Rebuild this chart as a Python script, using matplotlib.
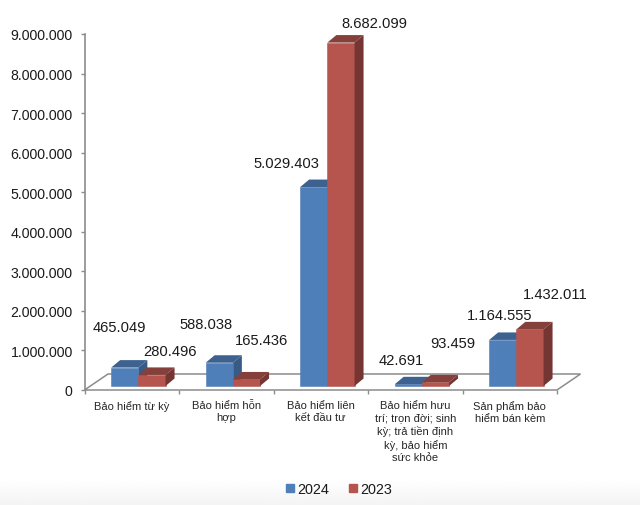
import numpy as np
import matplotlib
matplotlib.use("Agg")
import matplotlib.pyplot as plt
from matplotlib.patches import Polygon
from matplotlib.lines import Line2D

categories = ["Bảo hiểm từ kỳ", "Bảo hiểm hỗn\nhợp", "Bảo hiểm liên\nkết đầu tư",
              "Bảo hiểm hưu\ntrí; trọn đời; sinh\nkỳ; trả tiền định\nkỳ, bảo hiểm\nsức khỏe",
              "Sản phẩm bảo\nhiểm bán kèm"]
values_2024 = [465049, 588038, 5029403, 42691, 1164555]
values_2023 = [280496, 165436, 8682099, 93459, 1432011]
yticks = list(range(0, 10000000, 1000000))

plt.rcParams["font.family"] = ["Liberation Sans", "DejaVu Sans"]
W, H = 640, 506
fig = plt.figure(figsize=(W / 100, H / 100), dpi=100, facecolor="white")

def fmt(v):
    return f"{v:,}".replace(",", ".")

# soft grey fade at the bottom edge of the picture
bg = fig.add_axes([0, 0, 1, 26 / H], zorder=0)
bg.imshow(np.linspace(1, 0.955, 64)[:, None], cmap="gray", vmin=0, vmax=1,
          aspect="auto", extent=[0, 1, 0, 1])
bg.axis("off")

L, R, T, B = 84.5, 557, 35, 391
ax = fig.add_axes([L / W, 1 - B / H, (R - L) / W, (B - T) / H], zorder=1)
ax.patch.set_alpha(0)
ax.set_xlim(0, 5)
ax.set_ylim(0, 9000000)

px = 5 / (R - L)
py = 9000000 / (B - T)
base = 4 * py
bw = 27.2 * px
shift = 6.6 * px
dx, dy = 9 * px, 7.5 * py

GREY = "#8c8c8c"
# floor
fx, fy = 23.5 * px, 16 * py
ax.add_patch(Polygon([(0, 0), (5, 0), (5 + fx, fy), (fx, fy)], closed=True, fc="white",
                     ec=GREY, lw=1.1, clip_on=False, zorder=1))

series = [(values_2024, -1, "#4f7fb8", "#3d6290", "#385a85"),
          (values_2023, 0, "#b5554e", "#85403c", "#743533")]
for vals, off, front, top, side in series:
    xs = np.arange(5) + 0.5 + shift + off * bw
    ax.bar(xs, vals, width=bw, bottom=base, align="edge", color=front,
           edgecolor=front, linewidth=0.4, zorder=3)
    for x, v in zip(xs, vals):
        y = base + v
        ax.add_patch(Polygon([(x, y), (x + bw, y), (x + bw + dx, y + dy), (x + dx, y + dy)],
                             closed=True, fc=top, ec="none", clip_on=False, zorder=3))
        ax.add_patch(Polygon([(x + bw, base), (x + bw + dx, base + dy), (x + bw + dx, y + dy), (x + bw, y)],
                             closed=True, fc=side, ec="none", clip_on=False, zorder=2.5 if off else 3))

for s in ["top", "right"]:
    ax.spines[s].set_visible(False)
ax.spines["bottom"].set_visible(False)
ax.spines["left"].set_color(GREY)
ax.spines["left"].set_linewidth(1.2)
ax.set_yticks(yticks)
ax.set_yticklabels([fmt(v) for v in yticks], fontsize=10.2, color="#1a1a1a", va="center_baseline")
ax.tick_params(axis="y", length=3, width=1, color=GREY, pad=5.5)
ax.set_xticks(range(6))
ax.set_xticklabels([""] * 6)
ax.tick_params(axis="x", length=3, width=1, color=GREY)
for i, c in enumerate(categories):
    ax.text(i + 0.5, -0.028, c, transform=ax.get_xaxis_transform(), ha="center", va="top",
            fontsize=8, color="#262626", linespacing=1.3, clip_on=False)

# data label centres, in picture pixels
pos_2024 = [(120, 327), (207, 324), (287, 162), (402, 360), (500, 315)]
pos_2023 = [(170, 351), (262, 340), (375, 22), (453, 343), (556, 294)]
for vals, pos in ((values_2024, pos_2024), (values_2023, pos_2023)):
    for v, (x, y) in zip(vals, pos):
        fig.text((x - 0.5) / W, 1 - (y + 1.5) / H, fmt(v), ha="center", va="center", fontsize=10.6,
                 color="#1a1a1a", zorder=5)

handles = [Line2D([], [], ls="", marker="s", ms=5.5, color="#4f7fb8"),
           Line2D([], [], ls="", marker="s", ms=5.5, color="#b5554e")]
fig.legend(handles, ["2024", "2023"], ncol=2, frameon=False, fontsize=10.4,
           loc="center", bbox_to_anchor=(338.5 / W, 1 - 490 / H), handlelength=0.7,
           handletextpad=0.2, columnspacing=1.25, labelcolor="#1a1a1a")

fig.savefig("out.png", dpi=100)
